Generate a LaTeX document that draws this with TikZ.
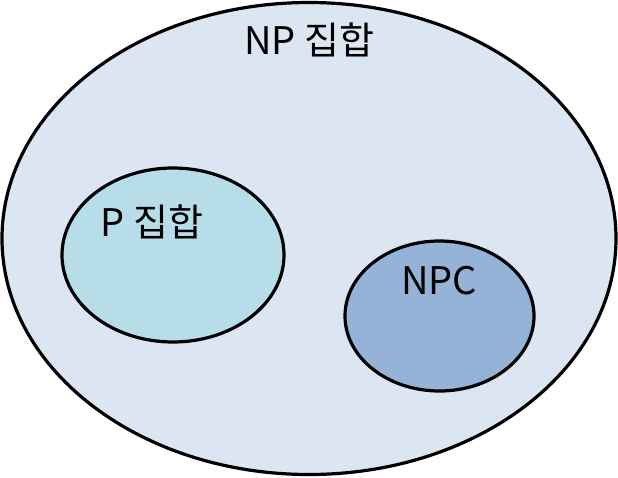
\documentclass[tikz,border=0pt]{standalone}
\usepackage{fontspec}
\newfontfamily\kofont{Noto Sans CJK KR}
\usepackage{tikz}
\definecolor{npfill}{HTML}{DCE6F2}
\definecolor{pfill}{HTML}{B7DEE8}
\definecolor{npcfill}{HTML}{95B3D7}
\tikzset{
	setline/.style={line width=3.2pt, draw=black},
	setlabel/.style={font=\kofont\fontsize{38}{44}\selectfont, inner sep=0pt}
}

\begin{document}
\begin{tikzpicture}[x=1pt, y=-1pt]
			%%%%% START %%%%%
			
			\useasboundingbox (0, 0) rectangle (618, 477);
			
			\draw[setline, fill=npfill] (309, 238.5) ellipse (307 and 236);
			\draw[setline, fill=pfill] (173, 255) ellipse (111 and 87);
			\draw[setline, fill=npcfill] (439.5, 316) ellipse (94.5 and 75);
			
			\node[setlabel] (npset) at (309, 40) {NP 집합};
			\node[setlabel] (pset) at (152, 222) {P 집합};
			\node[setlabel] (npc) at (439, 281) {NPC};
			
			%%%%% END %%%%%
\end{tikzpicture}
\end{document}
